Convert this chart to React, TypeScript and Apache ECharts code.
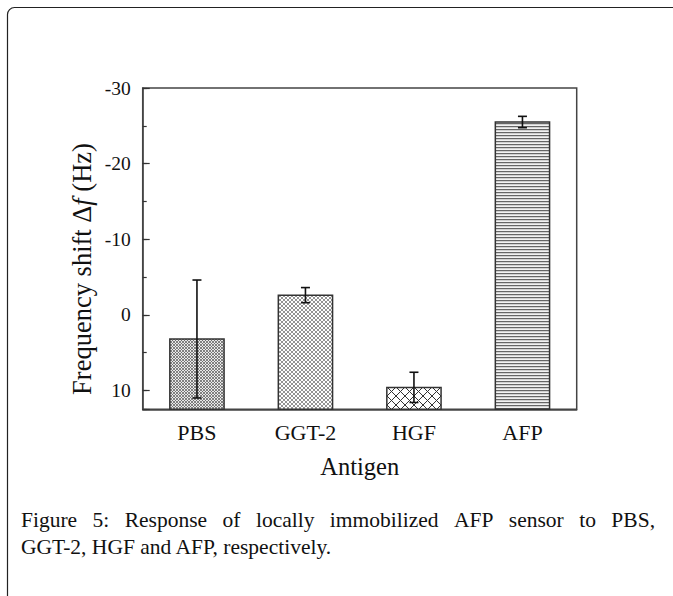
import { useEffect, useRef } from 'react';
import * as echarts from 'echarts';

// ---- data ----
const categories = ['PBS', 'GGT-2', 'HGF', 'AFP'];
const shiftValues = [3.2, -2.6, 9.6, -25.5];
const errorValues = [7.8, 1.0, 2.0, 0.75];
const yMin = -30;
const yMax = 12.5;
const yMajor = 10;
const yMinor = 5;
const yTitle = 'Frequency shift Δ{i|f} (Hz)';
const xTitle = 'Antigen';
const captionLine1 = ['Figure', '5:', 'Response', 'of', 'locally', 'immobilized', 'AFP', 'sensor', 'to', 'PBS,'];
const captionLine2 = 'GGT-2, HGF and AFP, respectively.';

const SERIF = '"Liberation Serif", "Times New Roman", serif';

function crossHatch(size: number, color: string, lw: number, bg: string) {
  const c = document.createElement('canvas');
  c.width = size;
  c.height = size;
  const ctx = c.getContext('2d')!;
  ctx.fillStyle = bg;
  ctx.fillRect(0, 0, size, size);
  ctx.strokeStyle = color;
  ctx.lineWidth = lw;
  ctx.beginPath();
  for (const o of [-size, 0, size]) {
    ctx.moveTo(o, 0);
    ctx.lineTo(o + size, size);
    ctx.moveTo(o + size, 0);
    ctx.lineTo(o, size);
  }
  ctx.stroke();
  return c;
}

function hLines(rows: string[]) {
  const c = document.createElement('canvas');
  c.width = 4;
  c.height = rows.length;
  const ctx = c.getContext('2d')!;
  rows.forEach((col, i) => {
    ctx.fillStyle = col;
    ctx.fillRect(0, i, 4, 1);
  });
  return c;
}

export default function App() {
  const ref = useRef<HTMLDivElement>(null);

  useEffect(() => {
    document.body.style.margin = '0';
    const chart = echarts.init(ref.current!, null, { renderer: 'svg', width: 673, height: 596 });

    const patterns = [
      crossHatch(3, '#666', 0.8, '#e8e8e8'),
      crossHatch(4, '#666', 0.7, '#fff'),
      crossHatch(9, '#333', 1, '#fff'),
      hLines(['#666', '#d0d0d0', '#f2f2f2']),
    ].map((img) => ({ image: img, repeat: 'repeat' }));

    // justify caption line 1
    const mc = document.createElement('canvas').getContext('2d')!;
    const capFont = 21.5;
    mc.font = `${capFont}px "Liberation Serif"`;
    const widths = captionLine1.map((w) => mc.measureText(w).width);
    const left = 21;
    const right = 655;
    const total = widths.reduce((a, b) => a + b, 0);
    const gap = (right - left - total) / (captionLine1.length - 1);
    let cx = left;
    const wordEls = captionLine1.map((w, i) => {
      const el = {
        type: 'text',
        x: cx,
        y: 519.5,
        style: {
          text: w,
          font: `${capFont}px ${SERIF}`,
          fill: '#111',
          align: 'left',
          verticalAlign: 'middle',
        },
      };
      cx += widths[i] + gap;
      return el;
    });

    const option: any = {
      animation: false,
      backgroundColor: '#fff',
      grid: {
        left: 142.7,
        right: 96.3,
        top: 88,
        bottom: 186.7,
        show: true,
        borderColor: '#444',
        borderWidth: 1.5,
        backgroundColor: 'transparent',
        outerBoundsMode: 'none',
        containLabel: false,
      },
      xAxis: {
        type: 'category',
        data: categories,
        boundaryGap: true,
        position: 'bottom',
        axisLine: { onZero: false, lineStyle: { color: '#444', width: 1.5 } },
        axisTick: { inside: true, alignWithLabel: true, length: 6, lineStyle: { color: '#333', width: 1.2 } },
        axisLabel: { fontFamily: SERIF, fontSize: 22, color: '#111', margin: 12 },
        name: xTitle,
        nameLocation: 'middle',
        nameGap: 45,
        nameTextStyle: { fontFamily: SERIF, fontSize: 24.5, color: '#111' },
        splitLine: { show: false },
      },
      yAxis: [
        {
          type: 'value',
          inverse: true,
          min: yMin,
          max: yMax,
          interval: yMajor,
          position: 'left',
          axisLine: { show: true, onZero: false, lineStyle: { color: '#444', width: 1.5 } },
          axisTick: { show: true, inside: true, length: 7, lineStyle: { color: '#333', width: 1.2 } },
          axisLabel: {
            fontFamily: SERIF,
            fontSize: 19.5,
            color: '#111',
            margin: 12,
            formatter: (v: number) => (v % yMajor === 0 ? String(v) : ''),
          },
          splitLine: { show: false },
        },
        {
          type: 'value',
          inverse: true,
          min: yMin,
          max: yMax,
          interval: yMinor,
          position: 'left',
          axisLine: { show: false, onZero: false },
          axisTick: { show: true, inside: true, length: 4, lineStyle: { color: '#333', width: 1.2 } },
          axisLabel: { show: false },
          splitLine: { show: false },
        },
      ],
      series: [
        {
          type: 'custom',
          xAxisIndex: 0,
          yAxisIndex: 0,
          data: shiftValues.map((v, i) => [i, v]),
          renderItem: (params: any, api: any) => {
            const i = api.value(0);
            const v = api.value(1);
            const top = api.coord([i, v]);
            const bot = api.coord([i, yMax]);
            const bw = api.size([1, 0])[0] * 0.5;
            return {
              type: 'rect',
              shape: {
                x: top[0] - bw / 2,
                y: Math.min(top[1], bot[1]),
                width: bw,
                height: Math.abs(bot[1] - top[1]),
              },
              style: { fill: patterns[params.dataIndex], stroke: '#333', lineWidth: 1.5 },
            };
          },
          z: 2,
        },
        {
          type: 'custom',
          xAxisIndex: 0,
          yAxisIndex: 0,
          data: shiftValues.map((v, i) => [i, v, errorValues[i]]),
          renderItem: (params: any, api: any) => {
            const i = api.value(0);
            const v = api.value(1);
            const e = api.value(2);
            const hi = api.coord([i, v - e]);
            const lo = api.coord([i, v + e]);
            const cap = 4.5;
            const st = { stroke: '#111', lineWidth: 1.6 };
            return {
              type: 'group',
              children: [
                { type: 'line', shape: { x1: hi[0], y1: hi[1], x2: lo[0], y2: lo[1] }, style: st },
                { type: 'line', shape: { x1: hi[0] - cap, y1: hi[1], x2: hi[0] + cap, y2: hi[1] }, style: st },
                { type: 'line', shape: { x1: lo[0] - cap, y1: lo[1], x2: lo[0] + cap, y2: lo[1] }, style: st },
              ],
            };
          },
          z: 3,
        },
      ],
      graphic: [
        {
          type: 'rect',
          shape: { x: 7.5, y: 7.5, width: 720, height: 700, r: 7 },
          style: { fill: 'none', stroke: '#222', lineWidth: 1.2 },
          silent: true,
        },
        {
          type: 'text',
          x: 82,
          y: 269,
          rotation: Math.PI / 2,
          style: {
            text: yTitle,
            font: `26.5px ${SERIF}`,
            fill: '#111',
            align: 'center',
            verticalAlign: 'middle',
            rich: {
              i: { fontFamily: SERIF, fontSize: 26.5, fontStyle: 'italic', fill: '#111' },
            },
          },
        },
        ...wordEls,
        {
          type: 'text',
          x: left,
          y: 546.5,
          style: {
            text: captionLine2,
            font: `${capFont}px ${SERIF}`,
            fill: '#111',
            align: 'left',
            verticalAlign: 'middle',
          },
        },
      ],
    };

    chart.setOption(option);
    return () => chart.dispose();
  }, []);

  return <div ref={ref} style={{ width: 673, height: 596 }} />;
}
